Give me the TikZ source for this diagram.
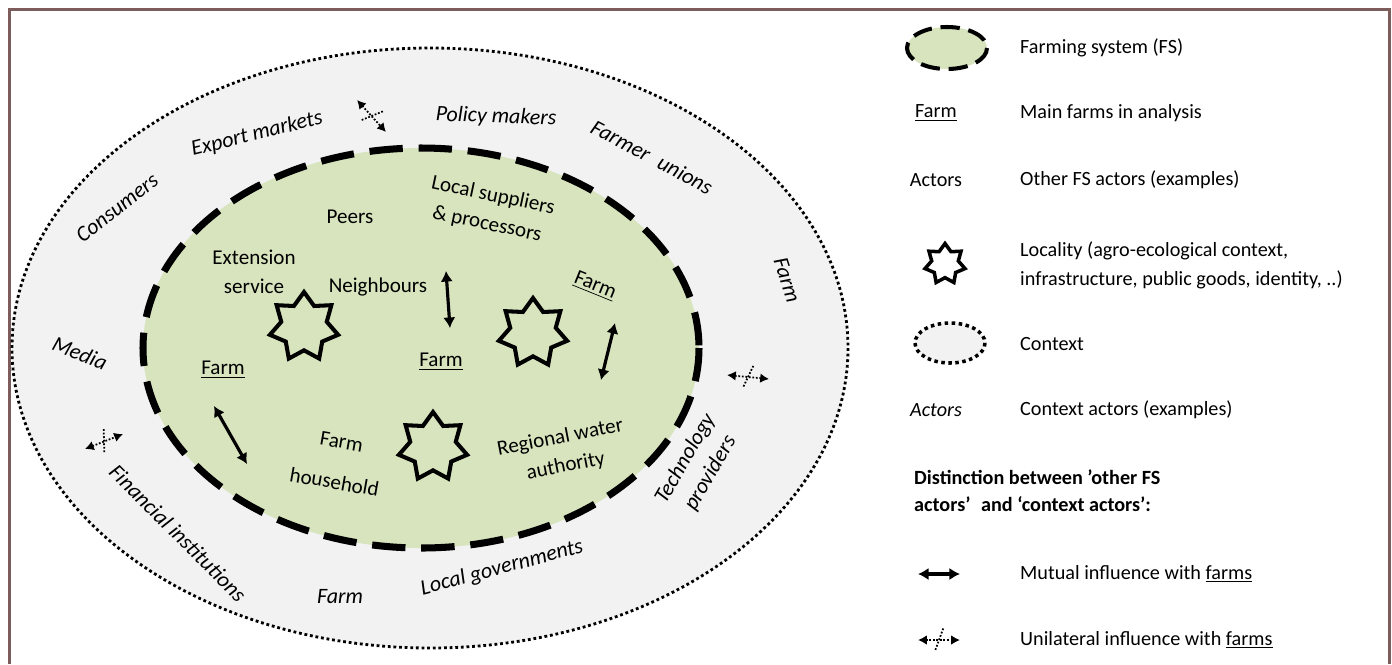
\documentclass[tikz,border=0pt]{standalone}
\usepackage{fontspec}
\setmainfont{Carlito}
\usetikzlibrary{calc, arrows.meta, shapes.geometric}
\definecolor{fsgreen}{RGB}{215,228,189}
\definecolor{ctxgray}{RGB}{242,242,242}
\definecolor{framebrown}{RGB}{125,92,92}

\begin{document}
\begin{tikzpicture}[x=0.02cm, y=-0.02cm, font=\fontsize{12}{16.5}\selectfont]
		% Styles for the two rings, symbols and labels
		\tikzset{fs/.style={fill=fsgreen, draw=black, line width=4pt, dash pattern=on 19pt off 9pt}}
		\tikzset{ctx/.style={fill=ctxgray, draw=black, line width=1.6pt, dash pattern=on 1.6pt off 1.6pt}}
		\tikzset{locality/.style={star, star points=7, star point ratio=1.5, draw=black, line width=2.3pt, minimum size=1.4cm, inner sep=0pt}}
		\tikzset{ctxactor/.style={font=\fontsize{12.5}{16.5}\selectfont\itshape, align=center}}
		\tikzset{fsactor/.style={align=center}}
		\tikzset{mutual/.style={<->, >={Latex[length=6pt,width=7pt]}, line width=1.8pt}}
		\tikzset{uni/.style={<->, >={Latex[length=5pt,width=5.5pt]}, line width=1pt, dash pattern=on 1pt off 1pt}}
		\tikzset{crossdots/.style={line width=1pt, dash pattern=on 1pt off 1pt}}
		\tikzset{legend/.style={anchor=west, font=\fontsize{11.5}{16.5}\selectfont, align=left}}
		
		\useasboundingbox (0,0) rectangle (1392,664);
		
		% Frame
		\draw[framebrown, line width=1.7pt] (9.5,664) -- (9.5,9.5) -- (1389.5,9.5) -- (1389.5,664);
		
		% Context and farming system
		\draw[ctx] (430,348) ellipse [x radius=418, y radius=300];
		\draw[fs]  (421,348) ellipse [x radius=278, y radius=200];
		
		% Context actors
		\node[ctxactor, rotate=14]  (export)  at (257,134) {Export markets};
		\node[ctxactor, rotate=-2]  (policy)  at (496,117) {Policy makers};
		\node[ctxactor, rotate=-28] (unions)  at (652,157) {Farmer\hspace{0.3em} unions};
		\node[ctxactor, rotate=38]  (consum)  at (117,208) {Consumers};
		\node[ctxactor, rotate=-72] (farmr)   at (787,280) {Farm};
		\node[ctxactor, rotate=-22] (media)   at (80,353)  {Media};
		\node[ctxactor, rotate=-45] (finance) at (178,533) {Financial institutions};
		\node[ctxactor]             (farmb)   at (340,597) {Farm};
		\node[ctxactor, rotate=15]  (localgov) at (502,568) {Local governments};
		\node[ctxactor, rotate=60]  (techno)  at (698,466) {Technology\\providers};
		
		% FS actors
		\node[fsactor]             (peers)     at (350,217) {Peers};
		\node[fsactor, rotate=-12] (suppliers) at (490,210) {Local suppliers\\\& processors};
		\node[fsactor]             (extension) at (254,272) {Extension\\service};
		\node[fsactor]             (neighbours) at (378,287) {Neighbours};
		\node[fsactor, rotate=-22] (farm1)     at (595,286) {\underline{Farm}};
		\node[fsactor]             (farm2)     at (223,370) {\underline{Farm}};
		\node[fsactor]             (farm3)     at (441,362) {\underline{Farm}};
		\node[fsactor, rotate=-10] (household) at (338,462) {Farm\\[7pt]household};
		\node[fsactor, rotate=11]  (water)     at (563,452) {Regional water\\authority};
		
		% Localities
		\node[locality] (loc1) at (304,327) {};
		\node[locality] (loc2) at (533,333) {};
		\node[locality] (loc3) at (433,447) {};
		
		% Mutual influence
		\coordinate (m1a) at (446,271); \coordinate (m1b) at (450,328);
		\coordinate (m2a) at (615,323); \coordinate (m2b) at (601,380);
		\coordinate (m3a) at (214,406); \coordinate (m3b) at (247,464);
		\draw[mutual] (m1a) -- (m1b);
		\draw[mutual] (m2a) -- (m2b);
		\draw[mutual] (m3a) -- (m3b);
		
		% Unilateral influence
		\coordinate (u1a) at (357,100); \coordinate (u1b) at (386,132);
		\coordinate (u2a) at (727,375); \coordinate (u2b) at (769,379);
		\coordinate (u3a) at (85,449);  \coordinate (u3b) at (123,434);
		\draw[uni] (u1a) -- coordinate (u1m) (u1b);
		\draw[uni] (u2a) -- coordinate (u2m) (u2b);
		\draw[uni] (u3a) -- coordinate (u3m) (u3b);
		\draw[crossdots] ($(u1m)!7pt!70:(u1b)$) -- ($(u1m)!7pt!-110:(u1b)$);
		\draw[crossdots] ($(u2m)!7pt!70:(u2b)$) -- ($(u2m)!7pt!-110:(u2b)$);
		\draw[crossdots] ($(u3m)!7pt!70:(u3b)$) -- ($(u3m)!7pt!-110:(u3b)$);
		
		% Legend
		\draw[fs, line width=2.3pt, dash pattern=on 11pt off 5pt] (947,48) ellipse [x radius=40, y radius=21];
		\node[legend] (lfs) at (1014,48) {Farming system (FS)};
		\node[font=\fontsize{11.5}{16.5}\selectfont] (lfarm) at (936,113) {\underline{Farm}};
		\node[legend] (lfarmtxt) at (1014,113) {Main farms in analysis};
		\node[font=\fontsize{11.5}{16.5}\selectfont] (lactor) at (936,180) {Actors};
		\node[legend] (lactortxt) at (1014,180) {Other FS actors (examples)};
		\node[locality, minimum size=0.82cm, line width=2pt] (lloc) at (945,264) {};
		\node[legend] (lloctxt) at (1014,265) {Locality (agro-ecological context,\\infrastructure, public goods, identity, ..)};
		\draw[ctx, line width=2pt, dash pattern=on 2pt off 2pt] (950,343) ellipse [x radius=35, y radius=20];
		\node[legend] (lctx) at (1014,344) {Context};
		\node[font=\fontsize{11.5}{16.5}\selectfont\itshape] (lctxactor) at (936,410) {Actors};
		\node[legend] (lctxtxt) at (1014,410) {Context actors (examples)};
		\node[legend, font=\fontsize{11.5}{15.5}\selectfont\bfseries] (ldist) at (908,491) {Distinction between 'other FS\\actors'\hspace{0.3em} and `context actors':};
		\coordinate (lma) at (918,574); \coordinate (lmb) at (960,574);
		\draw[mutual] (lma) -- (lmb);
		\node[legend] (lmtxt) at (1014,574) {Mutual influence with \underline{farms}};
		\coordinate (lua) at (918,640); \coordinate (lub) at (960,640);
		\draw[uni] (lua) -- coordinate (lum) (lub);
		\draw[crossdots] ($(lum)!7pt!70:(lub)$) -- ($(lum)!7pt!-110:(lub)$);
		\node[legend] (lutxt) at (1014,640) {Unilateral influence with \underline{farms}};
	\end{tikzpicture}
\end{document}
